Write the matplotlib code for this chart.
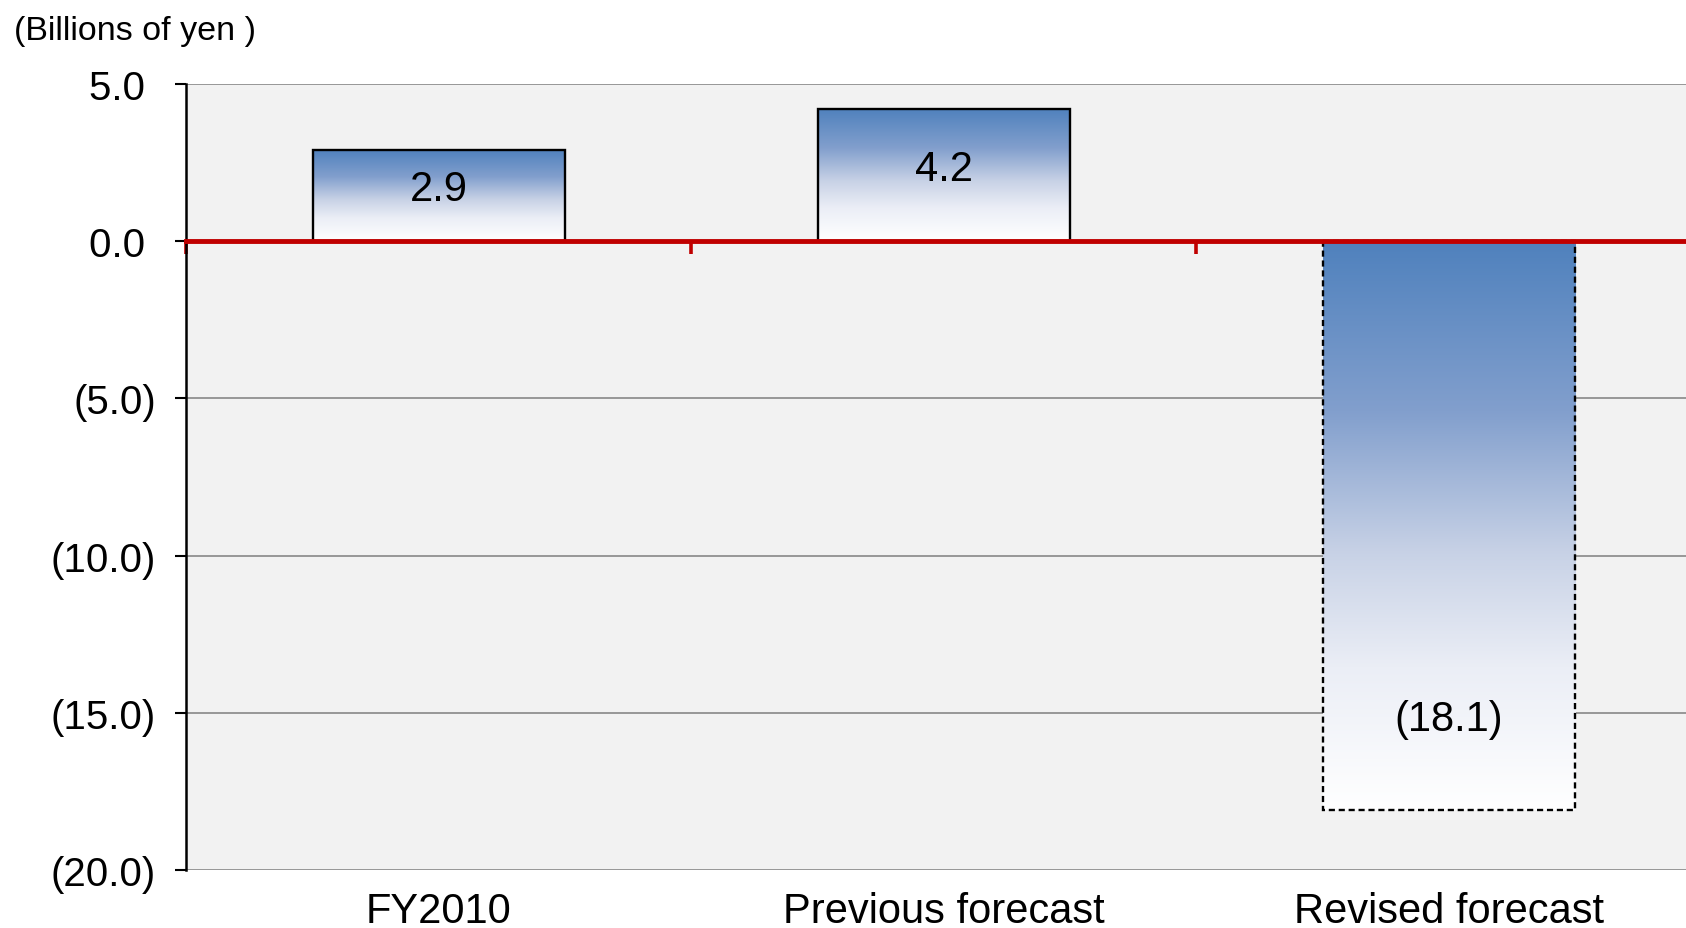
import numpy as np
import matplotlib
matplotlib.use('Agg')
import matplotlib.pyplot as plt
from matplotlib.colors import LinearSegmentedColormap

categories = ['FY2010', 'Previous forecast', 'Revised forecast']
values = [2.9, 4.2, -18.1]
value_labels = ['2.9', '4.2', '(18.1)']
edge_dashed = [False, False, True]
y_ticks = [5, 0, -5, -10, -15, -20]
y_tick_labels = ['5.0 ', '0.0 ', '(5.0)', '(10.0)', '(15.0)', '(20.0)']
unit_label = '(Billions of yen )'

plt.rcParams['font.family'] = ['Liberation Sans', 'DejaVu Sans']

fig = plt.figure(figsize=(16.86, 9.29), dpi=100)
ax = fig.add_axes([0.1106, 0.0624, 0.8986, 0.846])
ax.set_facecolor('#F2F2F2')

cmap = LinearSegmentedColormap.from_list(
    'g', [(0, '#4F81BD'), (0.3, '#829FCD'), (0.55, '#C8D2E6'),
          (0.75, '#EBEEF6'), (1, '#FFFFFF')])
grad = np.linspace(0, 1, 256).reshape(-1, 1)

x = np.arange(len(categories))
bars = ax.bar(x, values, width=0.5, facecolor='none', edgecolor='black',
              linewidth=1.7, zorder=3)
for b, dashed in zip(bars, edge_dashed):
    if dashed:
        b.set_linestyle((0, (2.6, 1.6)))
    x0, y0 = b.get_x(), b.get_y()
    w, h = b.get_width(), b.get_height()
    lo, hi = min(y0, y0 + h), max(y0, y0 + h)
    ax.imshow(grad, extent=(x0, x0 + w, lo, hi), origin='upper', cmap=cmap,
              aspect='auto', zorder=2, interpolation='bilinear')

ax.set_xlim(-0.5, 2.5)
ax.set_ylim(-20, 5)

ax.set_yticks(y_ticks)
ax.set_yticklabels(y_tick_labels)
ax.yaxis.grid(True, color='#979797', lw=1.4)
ax.set_axisbelow(True)
ax.tick_params(axis='y', length=8, width=1.5, color='black', pad=14,
               labelsize=29)

for s in ['top', 'right']:
    ax.spines[s].set_visible(False)
ax.spines['left'].set_color('black')
ax.spines['left'].set_linewidth(1.8)
ax.spines['bottom'].set_position(('data', 0))
ax.spines['bottom'].set_color('#C00000')
ax.spines['bottom'].set_linewidth(3.5)
ax.spines['bottom'].set_zorder(6)

ax.set_xticks([-0.5, 0.5, 1.5, 2.5])
ax.set_xticklabels([])
ax.tick_params(axis='x', colors='#C00000', direction='out', length=9, width=2.6)

sec = ax.secondary_xaxis('bottom')
sec.set_xticks(x, categories)
sec.tick_params(length=0, pad=15, labelsize=30)
sec.spines['bottom'].set_visible(False)

for xi, v, lbl in zip(x, values, value_labels):
    ypos = v / 2 + 0.2 if v > 0 else v + 2.9
    ax.text(xi, ypos, lbl, ha='center', va='center', fontsize=30, zorder=7)

fig.text(14 / 1686, 1 - 40 / 929, unit_label, fontsize=24.5, va='baseline',
         ha='left')

fig.savefig('out.png', dpi=100)
